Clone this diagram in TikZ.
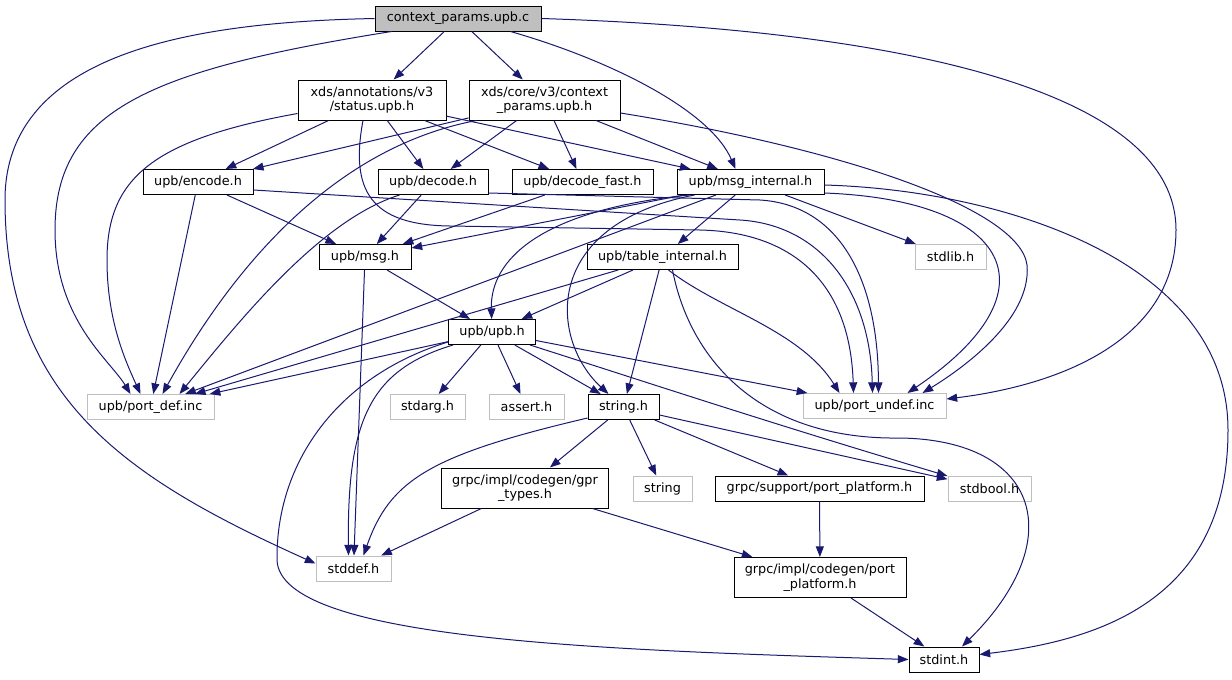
\documentclass[tikz,border=0pt]{standalone}
\usepackage{fontspec}
\setmainfont{DejaVu Sans}
\usepackage{tikz}
\usetikzlibrary{arrows.meta,calc}
\definecolor{edgeblue}{HTML}{191970}
\definecolor{sysgray}{HTML}{BFBFBF}
\tikzset{
  hdr/.style={draw=black, fill=white, line width=0.75pt, inner sep=0pt,
    minimum height=18.75pt, font=\fontsize{9.6}{11}\selectfont},
  sys/.style={hdr, draw=sysgray},
  twoline/.style={minimum height=30pt, align=center},
  dep/.style={draw=edgeblue, line width=0.75pt, -{Triangle[length=8pt,width=6pt]}}
}

\begin{document}
\begin{tikzpicture}[x=0.75pt,y=-0.75pt]
  \useasboundingbox (0,0) rectangle (1232,679);
  \node[hdr, fill=sysgray, minimum width=124.5pt] (ctx) at (458,18.5) {context\_params.upb.c};
  \node[hdr, twoline, minimum width=111pt] (status) at (372,100) {xds/annotations/v3\\/status.upb.h};
  \node[hdr, twoline, minimum width=113.25pt] (cparh) at (544.5,100) {xds/core/v3/context\\\_params.upb.h};
  \node[hdr, minimum width=82.5pt] (encode) at (198,182) {upb/encode.h};
  \node[hdr, minimum width=82.5pt] (decode) at (433,182) {upb/decode.h};
  \node[hdr, minimum width=105.75pt] (decodefast) at (582.5,182) {upb/decode\_fast.h};
  \node[hdr, minimum width=110.25pt] (msginternal) at (750.5,182) {upb/msg\_internal.h};
  \node[hdr, minimum width=69pt] (msg) at (365,257) {upb/msg.h};
  \node[hdr, minimum width=113.25pt] (tableinternal) at (662.5,257) {upb/table\_internal.h};
  \node[sys, minimum width=53.25pt] (stdlib) at (950.5,257) {stdlib.h};
  \node[hdr, minimum width=65.25pt] (upb) at (492,332) {upb/upb.h};
  \node[sys, minimum width=95.25pt] (portdef) at (150.5,407) {upb/port\_def.inc};
  \node[sys, minimum width=56.25pt] (stdarg) at (427.5,407) {stdarg.h};
  \node[sys, minimum width=56.25pt] (assert) at (526.5,407) {assert.h};
  \node[hdr, minimum width=53.25pt] (stringh) at (623.5,407) {string.h};
  \node[sys, minimum width=107.25pt] (portundef) at (874.5,406) {upb/port\_undef.inc};
  \node[hdr, twoline, minimum width=125.25pt] (gprtypes) at (525,488) {grpc/impl/codegen/gpr\\\_types.h};
  \node[sys, minimum width=44.25pt] (strng) at (662.5,488.5) {string};
  \node[hdr, minimum width=156.75pt] (supportpp) at (819.5,488.5) {grpc/support/port\_platform.h};
  \node[sys, minimum width=62.25pt] (stdbool) at (989.5,488.5) {stdbool.h};
  \node[sys, minimum width=56.25pt] (stddef) at (353.5,568.5) {stddef.h};
  \node[hdr, twoline, minimum width=129pt] (codegenpp) at (820,577.5) {grpc/impl/codegen/port\\\_platform.h};
  \node[hdr, minimum width=52.5pt] (stdint) at (944,659.5) {stdint.h};

  \draw[dep] (ctx) -- (status);
  \draw[dep] (ctx) -- (cparh);
  \draw[dep] ($(ctx.south east)+(-31,0)$) .. controls (610,60) and (710,110) .. ($(msginternal.north)+(-15,0)$);
  \draw[dep] ($(ctx.south west)+(17,0)$) .. controls (150,70) and (55,110) .. (55,230) .. controls (55,320) and (110,360) .. ($(portdef.north)+(-20,0)$);
  \draw[dep] (ctx.west) .. controls (200,22) and (5,50) .. (5,200) .. controls (5,400) and (130,480) .. ($(stddef.west)+(0,-5)$);
  \draw[dep] (ctx.east) .. controls (900,30) and (1176,90) .. (1176,230) .. controls (1176,340) and (1060,385) .. ($(portundef.east)+(0,-7)$);

  \draw[dep] (status) -- (encode);
  \draw[dep] (status) -- (decode);
  \draw[dep] (status) -- (decodefast);
  \draw[dep] (status) -- (msginternal);
  \draw[dep] ($(status.south west)+(0,-7)$) .. controls (150,140) and (107,180) .. (107,260) .. controls (107,320) and (125,360) .. ($(portdef.north)+(-10,0)$);
  \draw[dep] ($(status.south)+(-9,0)$) .. controls (350,190) and (370,225) .. (450,226) -- (700,230) .. controls (790,232) and (850,280) .. ($(portundef.north)+(-21,0)$);

  \draw[dep] (cparh) -- (encode);
  \draw[dep] (cparh) -- (decode);
  \draw[dep] (cparh) -- (decodefast);
  \draw[dep] (cparh) -- (msginternal);
  \draw[dep] ($(cparh.south west)+(8,0)$) .. controls (320,150) and (220,290) .. ($(portdef.north)+(12,0)$);
  \draw[dep] ($(cparh.east)+(0,13)$) .. controls (850,150) and (1020,210) .. (1027,265) .. controls (1032,320) and (960,370) .. ($(portundef.north)+(48,0)$);

  \draw[dep] (encode) -- (msg);
  \draw[dep] (encode) -- (portdef);
  \draw[dep] ($(encode.east)+(0,8)$) -- (740,220) .. controls (820,225) and (870,290) .. ($(portundef.north)+(-2,0)$);

  \draw[dep] (decode) -- (msg);
  \draw[dep] ($(decode.south west)+(22,0)$) .. controls (320,220) and (240,320) .. ($(portdef.north)+(29,0)$);
  \draw[dep] ($(decode.south east)+(0,-2)$) -- (760,200) .. controls (840,205) and (878,280) .. ($(portundef.north)+(4,0)$);

  \draw[dep] (decodefast) -- (msg);

  \draw[dep] (msginternal) -- (msg);
  \draw[dep] (msginternal) -- (tableinternal);
  \draw[dep] ($(msginternal.south west)+(13,0)$) .. controls (540,210) and (490,260) .. (upb);
  \draw[dep] ($(msginternal.south west)+(18,0)$) .. controls (540,225) and (550,340) .. ($(stringh.north)+(-15,0)$);
  \draw[dep] (msginternal) -- (stdlib);
  \draw[dep] (msginternal) -- (portdef);
  \draw[dep] ($(msginternal.south east)+(0,-2)$) .. controls (1010,200) and (1060,290) .. ($(portundef.north)+(33,0)$);
  \draw[dep] ($(msginternal.east)+(0,3)$) .. controls (1000,190) and (1228,260) .. (1228,430) .. controls (1228,600) and (1100,640) .. ($(stdint.east)+(0,-5)$);

  \draw[dep] (msg) -- (upb);
  \draw[dep] (msg) -- (stddef);

  \draw[dep] (tableinternal) -- (upb);
  \draw[dep] (tableinternal) -- (portdef);
  \draw[dep] (tableinternal) -- (stringh);
  \draw[dep] ($(tableinternal.south)+(6,0)$) .. controls (720,310) and (800,330) .. ($(portundef.north)+(-35,0)$);
  \draw[dep] ($(tableinternal.south)+(10,0)$) .. controls (690,360) and (760,440) .. (900,438) .. controls (1040,440) and (1070,540) .. ($(stdint.north)+(18,0)$);

  \draw[dep] (upb) -- (portdef);
  \draw[dep] (upb) -- (stdarg);
  \draw[dep] (upb) -- (assert);
  \draw[dep] (upb) -- (stringh);
  \draw[dep] (upb) -- (portundef);
  \draw[dep] ($(upb.south east)+(-6,0)$) .. controls (640,380) and (760,420) .. (stdbool);
  \draw[dep] ($(upb.south west)+(5,0)$) .. controls (370,370) and (347,420) .. ($(stddef.north)+(-5,0)$);
  \draw[dep] ($(upb.south west)+(0,-3)$) .. controls (340,375) and (276,460) .. (277,560) .. controls (280,640) and (600,650) .. (stdint.west);

  \draw[dep] (stringh) -- (gprtypes);
  \draw[dep] (stringh) -- (strng);
  \draw[dep] (stringh) -- (supportpp);
  \draw[dep] (stringh) -- (stdbool);
  \draw[dep] ($(stringh.south west)+(0,-2)$) .. controls (430,455) and (390,480) .. ($(stddef.north)+(10,0)$);

  \draw[dep] (gprtypes) -- (stddef);
  \draw[dep] (gprtypes) -- (codegenpp);
  \draw[dep] (supportpp) -- (codegenpp);
  \draw[dep] (codegenpp) -- (stdint);
\end{tikzpicture}
\end{document}
